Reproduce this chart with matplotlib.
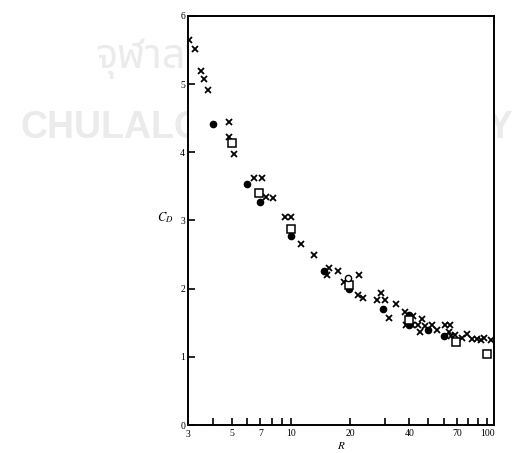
import numpy as np
import matplotlib
matplotlib.use('Agg')
import matplotlib.pyplot as plt
from matplotlib.ticker import FixedLocator, NullFormatter, NullLocator

# drag coefficient C_D against Reynolds number R
cross_R = [3.05, 3.24, 3.5, 3.62, 3.79, 4.83, 4.85, 5.15, 6.52, 7.1, 7.5, 8.1,
           9.37, 10.0, 11.3, 13.1, 15.3, 15.7, 17.3, 18.6, 22.2, 21.9, 23.3,
           27.3, 28.6, 30.3, 31.4, 34.4, 38.0, 42.0, 38.4, 41.5, 46.3, 44.5,
           45.6, 48.1, 52.4, 55.5, 60.5, 64.2, 63.7, 65.5, 68.5, 74.6, 78.4,
           83.0, 88.3, 93.1, 96.0, 104.0]
cross_C = [5.65, 5.51, 5.20, 5.08, 4.91, 4.45, 4.22, 3.98, 3.62, 3.62, 3.35, 3.33,
           3.05, 3.05, 2.66, 2.50, 2.20, 2.30, 2.26, 2.10, 2.20, 1.91, 1.86,
           1.83, 1.93, 1.84, 1.57, 1.77, 1.66, 1.60, 1.46, 1.46, 1.56, 1.46,
           1.37, 1.45, 1.47, 1.39, 1.47, 1.47, 1.37, 1.30, 1.32, 1.27, 1.33,
           1.26, 1.26, 1.24, 1.27, 1.24]

dot_R = [4.0, 6.0, 7.0, 10.0, 14.8, 19.8, 29.6, 40.0, 39.8, 50.0, 60.0]
dot_C = [4.41, 3.53, 3.27, 2.77, 2.26, 1.99, 1.70, 1.62, 1.47, 1.40, 1.31]

square_R = [5.0, 6.9, 10.0, 19.7, 39.8, 69.0, 100.0]
square_C = [4.13, 3.40, 2.87, 2.05, 1.54, 1.22, 1.04]

circle_R = [19.5]
circle_C = [2.16]

x_labels = [3, 5, 7, 10, 20, 40, 70, 100]
x_ticks = [4, 5, 6, 7, 8, 9, 10, 20, 30, 40, 50, 60, 70, 80, 90, 100]
y_ticks = [0, 1, 2, 3, 4, 5, 6]

plt.rcParams['font.family'] = ['Liberation Serif', 'DejaVu Serif']
plt.rcParams['mathtext.fontset'] = 'stix'

fig = plt.figure(figsize=(5.14, 4.53), dpi=100)

# faint watermark, mostly hidden behind the white plot area
wm = '#ebebeb'
fig.text(0.04, 0.695, 'CHULALONGKORN', fontsize=27, color=wm,
         family=['Liberation Sans', 'DejaVu Sans'], weight='bold', zorder=-5)
fig.text(0.998, 0.695, 'UNIVERSITY', fontsize=27, color=wm, ha='right',
         family=['Liberation Sans', 'DejaVu Sans'], weight='bold', zorder=-5)
fig.text(0.185, 0.85, 'จุฬาลงกรณ์', fontsize=30, color=wm,
         family=['Noto Sans Thai', 'Noto Sans', 'DejaVu Sans'], weight='bold', zorder=-5)

ax = fig.add_axes([0.3658, 0.0618, 0.5953, 0.9029])
ax.set_facecolor('white')
ax.set_xscale('log')
ax.set_xlim(3, 108)
ax.set_ylim(0, 6)

ax.plot(cross_R, cross_C, ls='none', marker='x', ms=4.8, mew=1.3, color='black')
ax.plot(dot_R, dot_C, ls='none', marker='o', ms=4.5, color='black')
ax.plot(square_R, square_C, ls='none', marker='s', ms=6, mew=1.1,
        mfc='white', mec='black')
ax.plot(circle_R, circle_C, ls='none', marker='o', ms=4.5, mew=1.0,
        mfc='white', mec='black')

ax.xaxis.set_major_locator(FixedLocator(x_ticks))
ax.xaxis.set_minor_locator(NullLocator())
ax.xaxis.set_minor_formatter(NullFormatter())
ax.set_xticks(x_ticks)
ax.set_xticklabels([str(t) if t in x_labels else '' for t in x_ticks])
ax.set_yticks(y_ticks)
ax.set_yticklabels([str(t) for t in y_ticks])

ax.tick_params(direction='in', length=5, width=1.2, labelsize=7, pad=2)
ax.tick_params(axis='x', pad=3)
for s in ax.spines.values():
    s.set_linewidth(1.4)

# the "3" at the origin corner
ax.text(3, -0.08, '3', ha='center', va='top', fontsize=7)

ax.set_xlabel('$R$', fontsize=8, labelpad=1)
ax.set_ylabel('$C_D$', fontsize=9, rotation=0, labelpad=10)
ax.yaxis.set_label_coords(-0.075, 0.49)

fig.savefig('out.png', dpi=100)
